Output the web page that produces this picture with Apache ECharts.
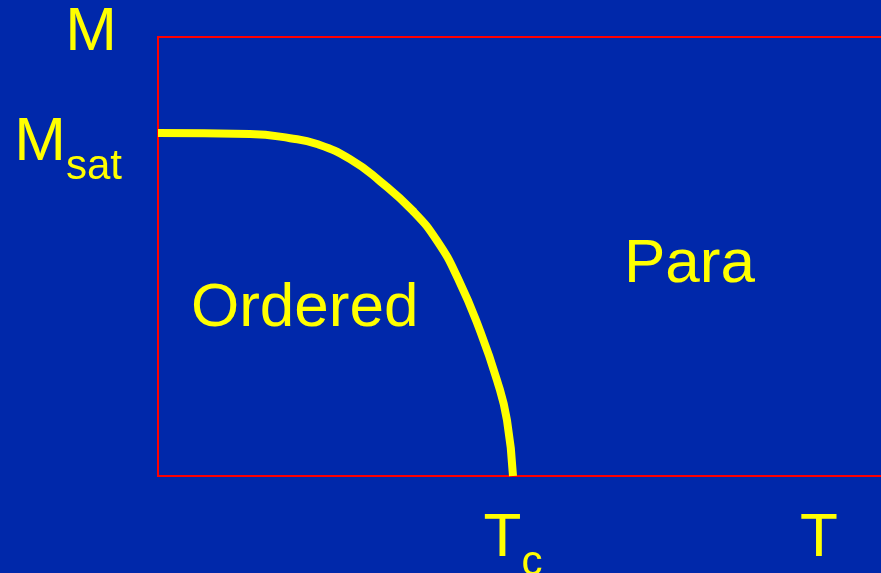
<!DOCTYPE html>
<html>
<head>
<meta charset="utf-8">
<script src="https://cdn.jsdelivr.net/npm/echarts@6/dist/echarts.min.js"></script>
<style>
  html, body { margin: 0; padding: 0; background: #0028aa; }
  #chart { width: 881px; height: 573px; }
</style>
</head>
<body>
<div id="chart"></div>
<script>
// reduced temperature T/Tc and reduced magnetization M/Msat
const temps = [0, 0.259, 0.372, 0.448, 0.541, 0.625, 0.718, 0.786, 0.845, 0.907, 0.955, 0.983, 1.0];
const magnet = [1.0, 0.997, 0.985, 0.968, 0.924, 0.86, 0.773, 0.686, 0.576, 0.424, 0.279, 0.163, 0];

const xTicks = [1, 1.862];           // Tc and T
const xTickText = ["{m|T}{s|c}", "{m|T}"];
const yTicks = [1];                   // Msat
const yTickText = ["{m|M}{s|sat}"];

const YELLOW = "#ffff00";
const FONT = "Liberation Sans, Arial, sans-serif";
const rich = {
  m: { fontSize: 62, color: YELLOW, fontFamily: FONT, verticalAlign: "bottom", lineHeight: 62 },
  s: { fontSize: 42, color: YELLOW, fontFamily: FONT, verticalAlign: "bottom", lineHeight: 62, padding: [0, 0, -14, 0] },
};

const chart = echarts.init(document.getElementById("chart"));

chart.setOption({
  backgroundColor: "#0028aa",
  animation: false,
  grid: {
    left: 158, top: 37, bottom: 97, right: -22.5,
    containLabel: false,
    outerBoundsMode: "none",
    show: true, borderColor: "#ff0000", borderWidth: 2, backgroundColor: "transparent",
  },
  xAxis: {
    type: "value",
    min: 0,
    max: 2.1,
    axisLine: { show: false },
    axisTick: { show: false },
    splitLine: { show: false },
    axisLabel: {
      customValues: xTicks,
      margin: 32,
      formatter: (v) => xTickText[xTicks.indexOf(v)],
      rich: rich,
    },
  },
  yAxis: {
    type: "value",
    min: 0,
    max: 1.28,
    name: "M",
    nameLocation: "end",
    nameGap: -27,
    nameTextStyle: { color: YELLOW, fontSize: 62, fontFamily: FONT, align: "center", padding: [0, 134, 0, 0] },
    axisLine: { show: false },
    axisTick: { show: false },
    splitLine: { show: false },
    axisLabel: {
      customValues: yTicks,
      margin: 36,
      padding: [20, 0, 0, 0],
      formatter: (v) => yTickText[yTicks.indexOf(v)],
      rich: rich,
    },
  },
  graphic: [
    { type: "text", left: 191, top: 278, style: { text: "Ordered", fill: YELLOW, font: "62px " + FONT } },
    { type: "text", left: 624, top: 234, style: { text: "Para", fill: YELLOW, font: "62px " + FONT } },
  ],
  series: [
    {
      type: "line",
      data: temps.map((t, i) => [t, magnet[i]]),
      smooth: 0.5,
      symbol: "none",
      lineStyle: { color: YELLOW, width: 8 },
    },
  ],
});
</script>
</body>
</html>
